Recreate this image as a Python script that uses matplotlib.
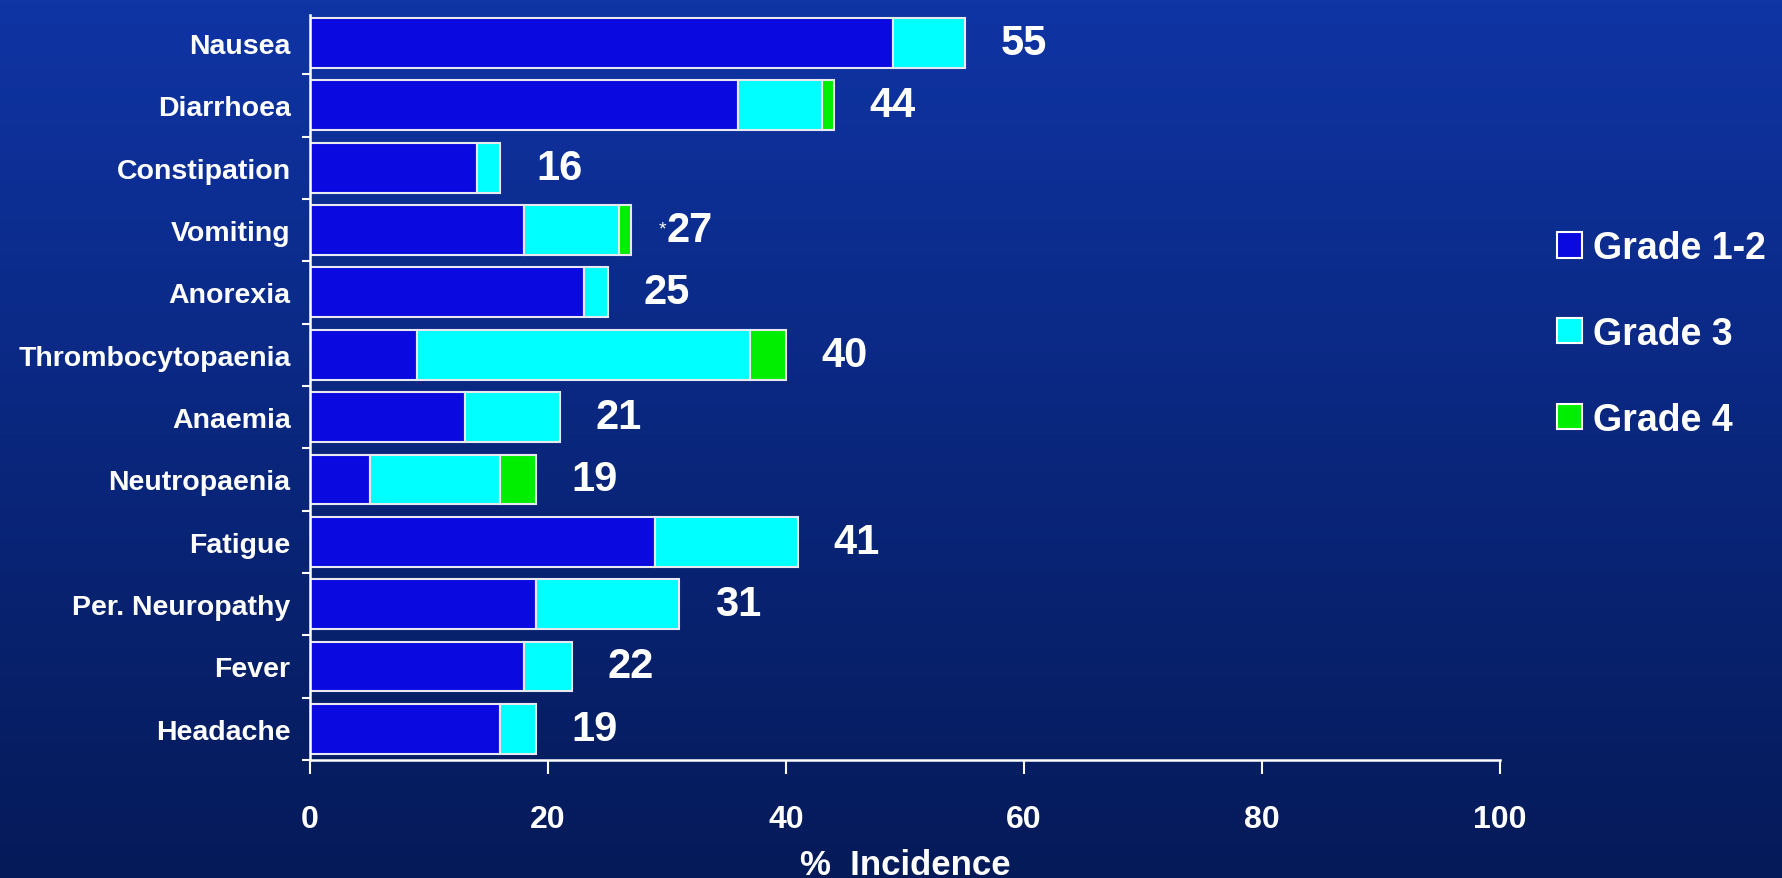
import numpy as np
import matplotlib
matplotlib.use("Agg")
import matplotlib.pyplot as plt
from matplotlib.patches import Patch

categories = ["Nausea", "Diarrhoea", "Constipation", "Vomiting", "Anorexia",
              "Thrombocytopaenia", "Anaemia", "Neutropaenia", "Fatigue",
              "Per. Neuropathy", "Fever", "Headache"]
grade12 = [49, 36, 14, 18, 23, 9, 13, 5, 29, 19, 18, 16]
grade3 = [6, 7, 2, 8, 2, 28, 8, 11, 12, 12, 4, 3]
grade4 = [0, 1, 0, 1, 0, 3, 0, 3, 0, 0, 0, 0]
totals = [55, 44, 16, 27, 25, 40, 21, 19, 41, 31, 22, 19]
asterisk = [False, False, False, True, False, False, False, False, False, False, False, False]
series_names = ["Grade 1-2", "Grade 3", "Grade 4"]
series_colors = ["#0a0ae0", "#00ffff", "#00ee00"]
xticks = [0, 20, 40, 60, 80, 100]
xlabel = "%  Incidence"

W, H = 1782, 879
fig = plt.figure(figsize=(W / 100, H / 100), dpi=100)

# gradient background
bg = fig.add_axes([0, 0, 1, 1], zorder=-10)
top = np.array([0x0f, 0x34, 0xa4]) / 255
bot = np.array([0x05, 0x1a, 0x58]) / 255
t = np.linspace(0, 1, 256)[:, None]
grad = top[None, :] * (1 - t) + bot[None, :] * t
bg.imshow(grad[:, None, :], aspect="auto", extent=[0, 1, 0, 1])
bg.axis("off")

left, right = 310 / W, 1500 / W
ax_bottom, ax_top = 1 - 761 / H, 1 - 16 / H
ax = fig.add_axes([left, ax_bottom, right - left, ax_top - ax_bottom])
ax.patch.set_alpha(0)

y = np.arange(len(categories))
g12 = np.array(grade12)
g3 = np.array(grade3)
g4 = np.array(grade4)
h = 0.8
ec = "#e8e8f0"
ax.barh(y, g12, height=h, color=series_colors[0], edgecolor=ec, linewidth=1.5)
ax.barh(y, g3, left=g12, height=h, color=series_colors[1], edgecolor=ec, linewidth=1.5)
mask = g4 > 0
ax.barh(y[mask], g4[mask], left=(g12 + g3)[mask], height=h, color=series_colors[2],
        edgecolor=ec, linewidth=1.5)

font = "Liberation Sans"
for i, (tot, ast) in enumerate(zip(totals, asterisk)):
    ax.text(tot + 3, i, str(tot), color="white", fontsize=30, fontweight="bold",
            family=font, ha="left", va="center")
    if ast:
        ax.text(tot + 2.9, i - 0.02, "*", color="white", fontsize=14,
                family=font, ha="right", va="center")

ax.set_xlim(0, 100)
ax.set_ylim(11.5, -0.45)
ax.set_yticks(y)
ax.set_yticklabels(categories, family=font, fontweight="bold", fontsize=20.5, color="white")
ax.set_yticks(np.arange(len(categories)) + 0.5, minor=True)
ax.tick_params(axis="y", which="major", length=0, pad=14)
ax.tick_params(axis="y", which="minor", length=6, width=1.5, color="white", direction="out")
ax.set_xticks(xticks)
ax.set_xticklabels([str(v) for v in xticks], family=font, fontweight="bold",
                   fontsize=23, color="white")
ax.tick_params(axis="x", length=10, width=1.5, color="white", direction="out", pad=22)
ax.set_xlabel(xlabel, family=font, fontweight="bold", fontsize=25, color="white", labelpad=10)

for s in ["top", "right"]:
    ax.spines[s].set_visible(False)
for s in ["left", "bottom"]:
    ax.spines[s].set_color("white")
    ax.spines[s].set_linewidth(1.8)

handles = [Patch(facecolor=c, edgecolor="white", linewidth=1.5) for c in series_colors]
leg = fig.legend(handles, series_names, loc="upper left", bbox_to_anchor=(1557 / W, 1 - 231 / H),
                 frameon=False, labelspacing=1.33, handlelength=0.67, handleheight=0.67,
                 handletextpad=0.3, borderpad=0, borderaxespad=0,
                 prop={"family": font, "weight": "bold", "size": 27})
for txt in leg.get_texts():
    txt.set_color("white")

fig.savefig("out.png", dpi=100)
